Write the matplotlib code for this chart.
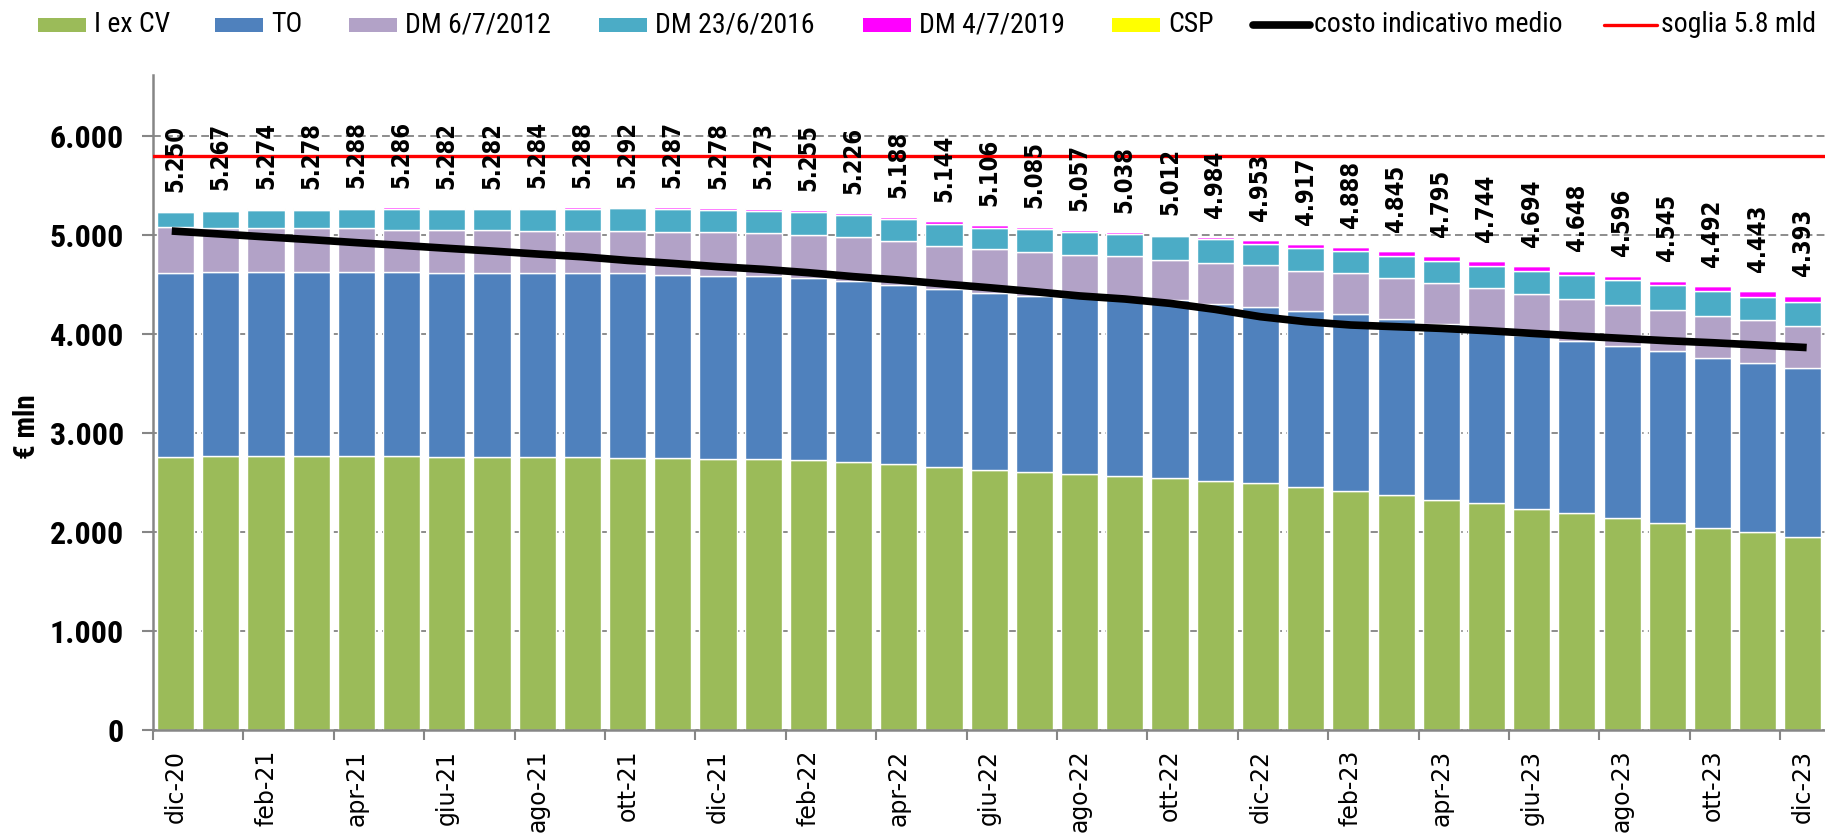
import numpy as np
import matplotlib
matplotlib.use("Agg")
import matplotlib.pyplot as plt
from matplotlib import font_manager as fm
from matplotlib.patches import Rectangle
from matplotlib.lines import Line2D
from matplotlib.ticker import FuncFormatter

# ---------------- data ----------------
months = ["dic-20", "gen-21", "feb-21", "mar-21", "apr-21", "mag-21", "giu-21", "lug-21",
          "ago-21", "set-21", "ott-21", "nov-21", "dic-21", "gen-22", "feb-22", "mar-22",
          "apr-22", "mag-22", "giu-22", "lug-22", "ago-22", "set-22", "ott-22", "nov-22",
          "dic-22", "gen-23", "feb-23", "mar-23", "apr-23", "mag-23", "giu-23", "lug-23",
          "ago-23", "set-23", "ott-23", "nov-23", "dic-23"]

totals = [5250, 5267, 5274, 5278, 5288, 5286, 5282, 5282, 5284, 5288, 5292, 5287, 5278,
          5273, 5255, 5226, 5188, 5144, 5106, 5085, 5057, 5038, 5012, 4984, 4953, 4917,
          4888, 4845, 4795, 4744, 4694, 4648, 4596, 4545, 4492, 4443, 4393]

i_ex_cv = [2754, 2764, 2764, 2764, 2764, 2764, 2754, 2754, 2754, 2754, 2750, 2750, 2737,
           2737, 2724, 2710, 2686, 2653, 2626, 2609, 2585, 2569, 2542, 2518, 2491, 2454,
           2413, 2373, 2322, 2289, 2235, 2196, 2145, 2093, 2038, 1998, 1952]

to_vals = [1864, 1864, 1864, 1864, 1864, 1864, 1860, 1860, 1860, 1860, 1864, 1851, 1853,
           1850, 1846, 1822, 1810, 1800, 1786, 1776, 1787, 1796, 1803, 1783, 1786, 1783,
           1787, 1780, 1776, 1756, 1755, 1731, 1735, 1736, 1722, 1708, 1703]

dm_2012 = [462, 444, 444, 444, 444, 427, 441, 441, 428, 428, 428, 431, 442,
           431, 435, 453, 449, 435, 450, 441, 424, 421, 400, 417, 417, 406,
           417, 414, 418, 417, 418, 433, 410, 414, 428, 432, 432]

dm_2016 = [150, 177, 184, 188, 196, 211, 210, 210, 225, 226, 230, 235, 226,
           222, 225, 218, 220, 226, 214, 234, 238, 229, 244, 239, 216, 231,
           228, 225, 222, 225, 231, 237, 261, 254, 249, 238, 238]

dm_2019 = [12, 10, 10, 10, 12, 15, 12, 12, 12, 15, 15, 15, 15,
           28, 20, 18, 18, 25, 25, 20, 18, 18, 18, 22, 38, 38,
           38, 48, 52, 52, 50, 43, 40, 40, 50, 62, 62]

csp = [8, 8, 8, 8, 8, 5, 5, 5, 5, 5, 5, 5, 5,
       5, 5, 5, 5, 5, 5, 5, 5, 5, 5, 5, 5, 5,
       5, 5, 5, 5, 5, 8, 5, 8, 5, 5, 6]

costo_medio = [5040, 5012, 4983, 4955, 4925, 4897, 4868, 4840, 4810, 4782, 4745, 4715, 4682,
               4655, 4621, 4581, 4547, 4507, 4469, 4429, 4386, 4355, 4311, 4250, 4176, 4126,
               4092, 4075, 4058, 4035, 4008, 3981, 3957, 3933, 3913, 3890, 3866]

soglia = 5800

series_names = ["I ex CV", "TO", "DM 6/7/2012", "DM 23/6/2016", "DM 4/7/2019", "CSP"]
line_names = ["costo indicativo medio", "soglia 5.8 mld"]

# ---------------- fonts ----------------
avail = {f.name for f in fm.fontManager.ttflist}
def pick(*names):
    for n in names:
        if n in avail:
            return n
    return "DejaVu Sans"

narrow = pick("Liberation Sans Narrow", "Roboto Condensed", "Open Sans Condensed", "Liberation Sans")
has_dejavu_cond = any(f.name == "DejaVu Sans" and f.stretch == "condensed" and f.weight in (700, "bold")
                      for f in fm.fontManager.ttflist)
if has_dejavu_cond:
    lab_font = dict(family="DejaVu Sans", fontstretch="condensed", fontweight="bold", fontsize=17)
else:
    lab_font = dict(family=pick("Open Sans", "Noto Sans", "Lato"), fontweight="bold", fontsize=18)

# ---------------- figure ----------------
W, H = 1825, 838
fig = plt.figure(figsize=(W / 100, H / 100), dpi=100)
ax_left, ax_bottom, ax_top = 153, 729.7, 75
ax = fig.add_axes([ax_left / W, (H - ax_bottom) / H, (W - ax_left) / W, (ax_bottom - ax_top) / H])

colors = ["#9BBB59", "#4F81BD", "#B2A2C7", "#4BACC6", "#FF00FF", "#FFFF00"]
x = np.arange(len(months))
bottom = np.zeros(len(months))
for vals, col in zip([i_ex_cv, to_vals, dm_2012, dm_2016, dm_2019, csp], colors):
    v = np.array(vals, dtype=float)
    ax.bar(x, v, bottom=bottom, width=0.82, color=col, edgecolor="white",
           linewidth=1.0, zorder=2)
    bottom += v

ax.axhline(soglia, color="#FF0000", lw=2.4, zorder=3)
ax.plot(x, costo_medio, color="black", lw=5.5, zorder=4, solid_joinstyle="round")

for i, t in enumerate(totals):
    ax.annotate(f"{t:,}".replace(",", "."), (i, t), xytext=(0, 13.5),
                textcoords="offset points", rotation=90, ha="center", va="bottom",
                zorder=5, **lab_font)

ax.set_xlim(-0.5, 36.49)
ax.set_ylim(0, 6620)

ax.set_yticks(np.arange(0, 6001, 1000))
ax.yaxis.set_major_formatter(FuncFormatter(lambda v, p: f"{int(v):,}".replace(",", ".")))
ax.yaxis.grid(True, color="#8C8C8C", linestyle=(0, (4, 2.2)), linewidth=1.4)
ax.set_axisbelow(True)

ax.set_xticks(x[::2])
ax.set_xticklabels(months[::2], rotation=90, fontsize=17, family="DejaVu Sans")
ax.set_xticks(np.arange(-0.5, 37, 2), minor=True)
ax.tick_params(axis="x", which="major", length=0, pad=14.5)
ax.tick_params(axis="x", which="minor", length=7.5, width=1.5, color="#868686")
ax.tick_params(axis="y", which="major", length=8, width=1.5, color="#868686", pad=13)
for lab in ax.get_yticklabels():
    lab.set_fontfamily(narrow)
    lab.set_fontweight("bold")
    lab.set_fontsize(23)

for s in ["top", "right"]:
    ax.spines[s].set_visible(False)
for s in ["left", "bottom"]:
    ax.spines[s].set_color("#868686")
    ax.spines[s].set_linewidth(1.8)

fig.text(27 / W, 1 - 427 / H, "€ mln", rotation=90, fontsize=21, fontweight="bold",
         family=narrow, ha="center", va="center")

# ---------------- legend (one row at top) ----------------
leg_y = 1 - 25 / H
patch_x = [38, 215, 349, 599, 863, 1112]
for px_, col, name in zip(patch_x, colors, series_names):
    fig.add_artist(Rectangle((px_ / W, 1 - 32 / H), 48 / W, 14 / H, transform=fig.transFigure,
                             facecolor=col, edgecolor="none"))
    fig.text((px_ + 56) / W, leg_y, name, fontsize=20, family=narrow, ha="left", va="center")
line_x = [(1253, 1310, "black", 5.5), (1604, 1657, "#FF0000", 2.4)]
for (x0, x1, col, lw), name in zip(line_x, line_names):
    fig.add_artist(Line2D([x0 / W, x1 / W], [leg_y, leg_y], transform=fig.transFigure,
                          color=col, lw=lw, solid_capstyle="round"))
    fig.text((x1 + 4) / W, leg_y, name, fontsize=20, family=narrow, ha="left", va="center")

fig.savefig("out.png", dpi=100)
